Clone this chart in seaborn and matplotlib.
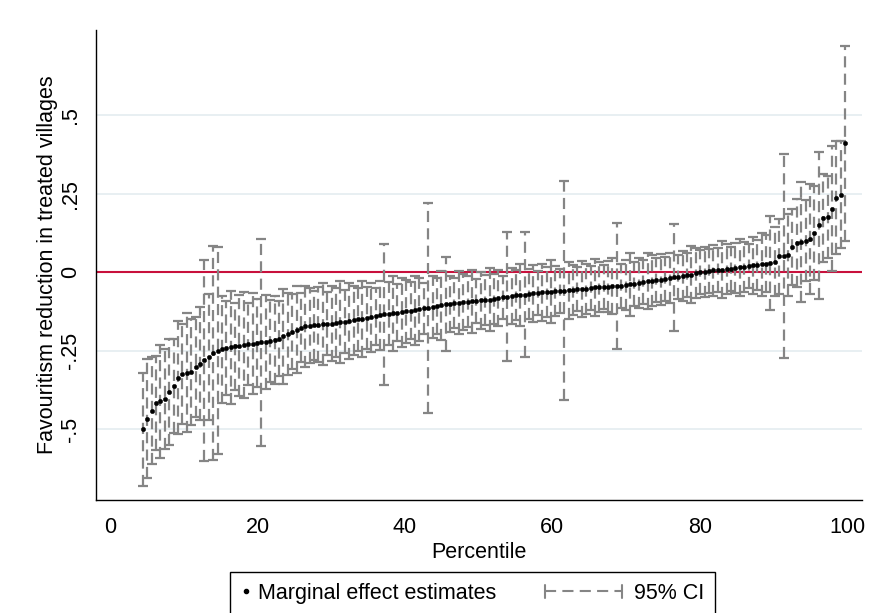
import matplotlib
matplotlib.use("Agg")
import matplotlib.pyplot as plt
import seaborn as sns
import pandas as pd
from matplotlib.legend_handler import HandlerBase
from matplotlib.lines import Line2D

# ---------------- data ----------------
n_obs = 168
ranks = list(range(8, 169))  # ranks of the sorted village estimates shown

estimates = [
    -0.500, -0.467, -0.442, -0.416, -0.412, -0.405, -0.382, -0.364, -0.337, -0.325,
    -0.321, -0.318, -0.303, -0.292, -0.281, -0.270, -0.258, -0.250, -0.246, -0.243,
    -0.240, -0.237, -0.234, -0.232, -0.230, -0.228, -0.226, -0.224, -0.222, -0.220,
    -0.217, -0.212, -0.205, -0.197, -0.190, -0.183, -0.177, -0.173, -0.171, -0.169,
    -0.168, -0.166, -0.165, -0.164, -0.162, -0.160, -0.158, -0.156, -0.153, -0.151,
    -0.149, -0.146, -0.144, -0.141, -0.138, -0.135, -0.133, -0.131, -0.129, -0.128,
    -0.125, -0.123, -0.121, -0.118, -0.116, -0.114, -0.111, -0.108, -0.106, -0.103,
    -0.101, -0.099, -0.098, -0.096, -0.094, -0.093, -0.092, -0.090, -0.089, -0.088,
    -0.086, -0.083, -0.081, -0.078, -0.076, -0.074, -0.073, -0.072, -0.070, -0.068,
    -0.066, -0.065, -0.064, -0.063, -0.061, -0.060, -0.059, -0.058, -0.057, -0.055,
    -0.054, -0.053, -0.051, -0.049, -0.048, -0.047, -0.046, -0.045, -0.044, -0.043,
    -0.042, -0.039, -0.037, -0.034, -0.032, -0.029, -0.027, -0.025, -0.024, -0.022,
    -0.020, -0.017, -0.015, -0.012, -0.010, -0.008, -0.004, -0.001, 0.001, 0.003,
    0.005, 0.006, 0.008, 0.010, 0.011, 0.013, 0.015, 0.017, 0.019, 0.021,
    0.023, 0.025, 0.027, 0.029, 0.033, 0.050, 0.051, 0.055, 0.080, 0.092,
    0.096, 0.100, 0.106, 0.124, 0.149, 0.171, 0.175, 0.202, 0.236, 0.246,
    0.410,
]

ci_halfwidth = [
    0.18, 0.19, 0.17, 0.15, 0.18, 0.16, 0.17, 0.15, 0.18, 0.16,
    0.19, 0.17, 0.16, 0.18, 0.32, 0.20, 0.34, 0.33, 0.17, 0.15,
    0.18, 0.14, 0.16, 0.17, 0.13, 0.16, 0.14, 0.33, 0.15, 0.13,
    0.14, 0.12, 0.15, 0.13, 0.12, 0.14, 0.11, 0.13, 0.12, 0.11,
    0.12, 0.13, 0.10, 0.12, 0.11, 0.13, 0.10, 0.12, 0.11, 0.10,
    0.12, 0.10, 0.11, 0.09, 0.11, 0.225, 0.10, 0.12, 0.09, 0.11,
    0.10, 0.09, 0.11, 0.10, 0.08, 0.335, 0.10, 0.09, 0.11, 0.15,
    0.09, 0.08, 0.10, 0.09, 0.08, 0.10, 0.07, 0.09, 0.08, 0.10,
    0.08, 0.09, 0.07, 0.205, 0.09, 0.08, 0.10, 0.20, 0.08, 0.09,
    0.07, 0.09, 0.08, 0.10, 0.08, 0.07, 0.35, 0.09, 0.08, 0.07,
    0.09, 0.08, 0.07, 0.09, 0.08, 0.07, 0.08, 0.09, 0.20, 0.07,
    0.08, 0.10, 0.07, 0.08, 0.07, 0.09, 0.08, 0.07, 0.08, 0.07,
    0.08, 0.17, 0.07, 0.08, 0.07, 0.09, 0.08, 0.07, 0.08, 0.07,
    0.08, 0.07, 0.09, 0.08, 0.07, 0.08, 0.09, 0.08, 0.07, 0.09,
    0.08, 0.10, 0.09, 0.15, 0.11, 0.12, 0.325, 0.13, 0.12, 0.14,
    0.19, 0.13, 0.175, 0.15, 0.235, 0.14, 0.13, 0.20, 0.18, 0.17,
    0.31,
]

y_ticks = [-0.5, -0.25, 0, 0.25, 0.5]
y_tick_labels = ["-.5", "-.25", "0", ".25", ".5"]
x_ticks = [0, 20, 40, 60, 80, 100]
x_tick_labels = ["0", "20", "40", "60", "80", "100"]
x_label = "Percentile"
y_label = "Favouritism reduction in treated villages"
legend_labels = ["Marginal effect estimates", "95% CI"]

df = pd.DataFrame({"rank": ranks, "estimate": estimates, "hw": ci_halfwidth})
df["percentile"] = 100 * (df["rank"] - 0.5) / n_obs

# ---------------- style ----------------
sns.set_theme(style="white")
plt.rcParams["font.family"] = ["Liberation Sans", "DejaVu Sans"]
plt.rcParams["lines.scale_dashes"] = False

GRID = "#E6EEF1"
CI_GRAY = "#858585"
RED = "#C8103C"
FS = 15.5
DASH = (0, (8, 4.5))

fig = plt.figure(figsize=(8.78, 6.13), dpi=100)
fig.patch.set_facecolor("white")
ax = fig.add_axes([96 / 878, 113 / 613, (862 - 96) / 878, 470 / 613])
ax.set_facecolor("white")

for yt in y_ticks:
    ax.axhline(yt, color=GRID, lw=1.3, zorder=0)
ax.axhline(0, color=RED, lw=1.5, zorder=1)

eb = ax.errorbar(df["percentile"], df["estimate"], yerr=df["hw"], fmt="none",
                 ecolor=CI_GRAY, elinewidth=1.6, capsize=3.3, capthick=1.6, zorder=2)
eb[2][0].set_linestyle(DASH)

sns.scatterplot(data=df, x="percentile", y="estimate", ax=ax, color="black",
                s=10, edgecolor="black", linewidth=0.3, zorder=3, legend=False)

ax.set_xlim(-1.9, 102)
ax.set_ylim(-0.726, 0.771)
ax.set_xticks(x_ticks)
ax.set_xticklabels(x_tick_labels, fontsize=FS)
ax.set_yticks(y_ticks)
ax.set_yticklabels(y_tick_labels, fontsize=FS, rotation=90, va="center")
ax.tick_params(axis="both", direction="out", length=5, width=1, color="black",
               labelcolor="black")
ax.tick_params(axis="x", pad=7)
ax.tick_params(axis="y", pad=6)
for s in ["top", "right"]:
    ax.spines[s].set_visible(False)
for s in ["left", "bottom"]:
    ax.spines[s].set_color("black")
    ax.spines[s].set_linewidth(1.0)
ax.set_xlabel(x_label, fontsize=FS, color="black", labelpad=3)
ax.set_ylabel(y_label, fontsize=FS, color="black", labelpad=1)
ax.grid(False)


# ---------------- legend ----------------
class DotHandler(HandlerBase):
    def create_artists(self, legend, orig_handle, xdescent, ydescent, width,
                       height, fontsize, trans):
        x = -xdescent + width / 2
        y = -ydescent + height / 2
        return [Line2D([x], [y], marker="o", markersize=3, color="black",
                       linestyle="none", transform=trans)]


class CIHandler(HandlerBase):
    def create_artists(self, legend, orig_handle, xdescent, ydescent, width,
                       height, fontsize, trans):
        x1 = -xdescent + width - 0.25 * fontsize
        x0 = x1 - 3.6 * fontsize
        y = -ydescent + height / 2
        c = 0.3 * fontsize
        arts = [Line2D([x0, x1], [y, y], color=CI_GRAY, lw=1.5, linestyle=DASH,
                       transform=trans)]
        for xc in (x0, x1):
            arts.append(Line2D([xc, xc], [y - c, y + c], color=CI_GRAY, lw=1.5,
                               transform=trans))
        return arts


h_dot = Line2D([], [], marker="o", color="black", linestyle="none")
h_ci = Line2D([], [], color=CI_GRAY)
leg = fig.legend([h_dot, h_ci], legend_labels, ncol=2,
                 handler_map={h_dot: DotHandler(), h_ci: CIHandler()},
                 loc="upper left", bbox_to_anchor=(230 / 878, 1 - 572 / 613),
                 borderaxespad=0, fontsize=FS, handlelength=0.5, handletextpad=0.3,
                 columnspacing=5.6, borderpad=0.5, frameon=True, fancybox=False,
                 framealpha=1, edgecolor="black")
leg.get_frame().set_linewidth(1.0)
for t in leg.get_texts():
    t.set_color("black")

fig.savefig("out.png", dpi=100, facecolor="white")
